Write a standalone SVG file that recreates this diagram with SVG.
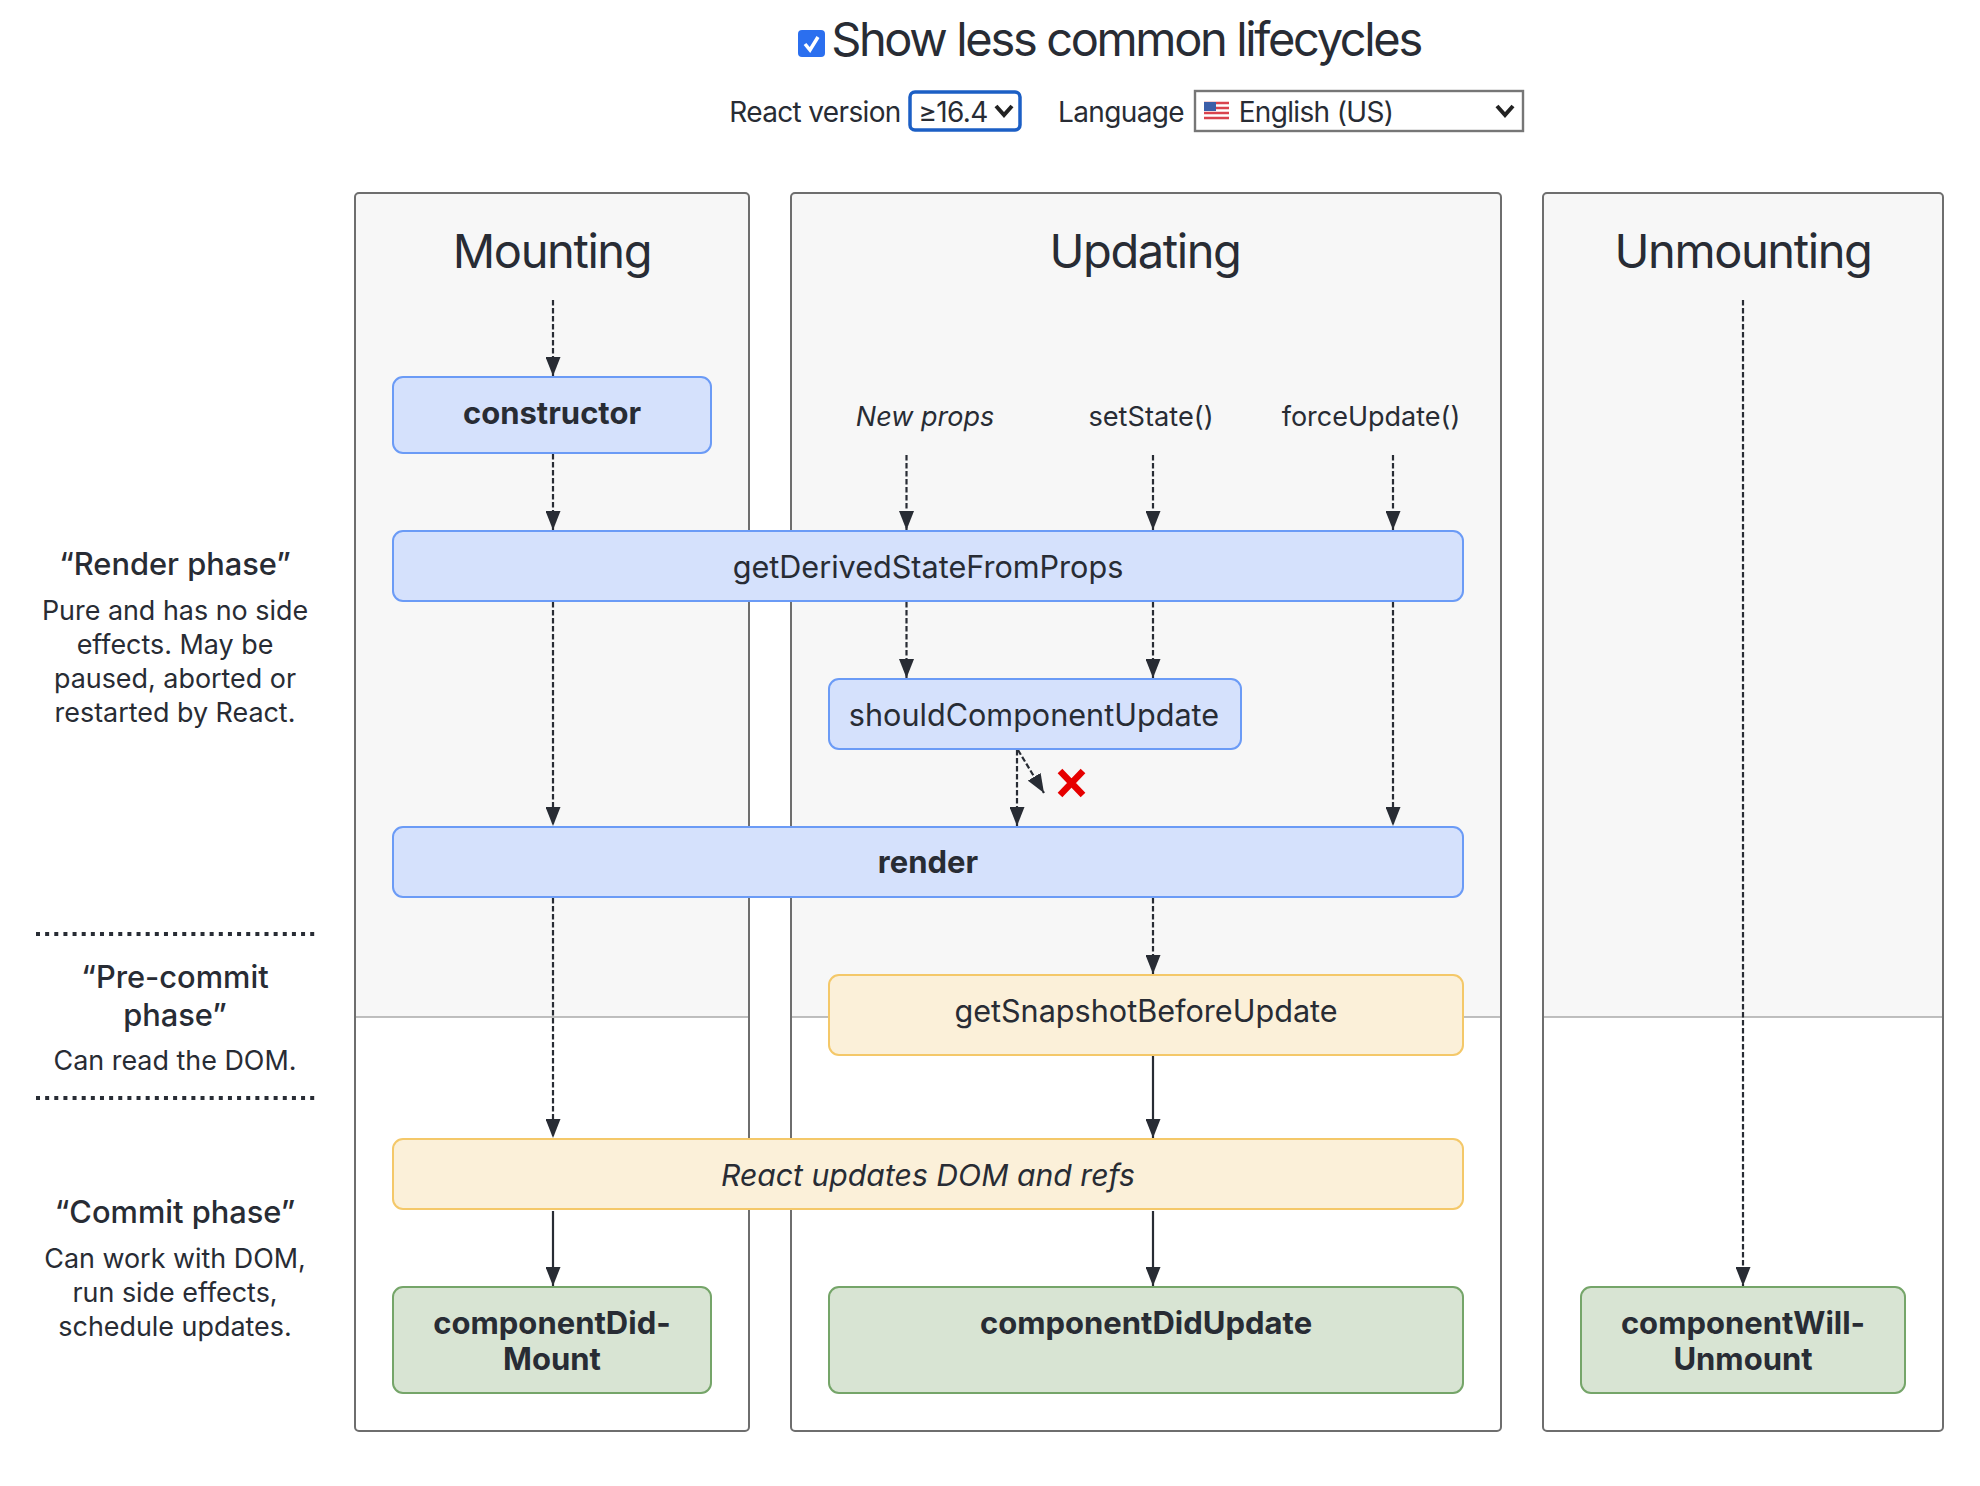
<svg xmlns="http://www.w3.org/2000/svg" width="1980" height="1486" viewBox="0 0 1980 1486">
<style>
text{font-family:Inter,"Noto Sans","Liberation Sans",sans-serif;fill:#282c34;text-anchor:middle}
.panel{fill:none;stroke:#6e6e6e;stroke-width:2}
.top{fill:#f7f7f7}
.div{stroke:#aaa;stroke-width:1.6}
.t{font-size:47px;letter-spacing:-1.4px}
.n{font-size:30.6px}
.b{font-size:31px;font-weight:700}
.l{font-size:26.9px}
.h{font-size:30.8px;font-weight:500}
.ctl{font-size:28px;letter-spacing:-0.65px}
.blue{fill:#d5e1fc;stroke:#6b9bf6;stroke-width:2}
.yel{fill:#fbf0d9;stroke:#f4c869;stroke-width:2}
.grn{fill:#d8e4d3;stroke:#75a569;stroke-width:2}
.c{fill:none;stroke:#282c34;stroke-width:2.2}
.d{stroke-dasharray:5.500 2.500}
.dots{stroke:#282c34;stroke-width:4;stroke-dasharray:4 5.140}
.chev{fill:none;stroke:#222;stroke-width:4}
</style>
<defs>
<marker id="ah" markerUnits="userSpaceOnUse" viewBox="0 0 19 15" refX="19" refY="7.500" markerWidth="19" markerHeight="15" orient="auto"><path d="M0 0L19 7.500L0 15Z" fill="#282c34"/></marker>
</defs>
<rect width="1980" height="1486" fill="#fff"/>
<g id="controls">
<rect x="798" y="30" width="27" height="27" rx="4" fill="#2b6fef"/>
<path d="M805 44L810 50L818 37" fill="none" stroke="#fff" stroke-width="3.5"/>
<text x="1126" y="56" style="font-size:47px;letter-spacing:-2.35px">Show less common lifecycles</text>
<text x="815" y="122" class="ctl">React version</text>
<rect x="910" y="92" width="110" height="38" rx="5" fill="#fff" stroke="#1c5fc5" stroke-width="3.5"/>
<text x="953" y="122" class="ctl">≥16.4</text>
<path d="M996 106L1004 115L1012 106" class="chev"/>
<text x="1121" y="122" class="ctl">Language</text>
<rect x="1195" y="91" width="328" height="40" fill="#fff" stroke="#767676" stroke-width="2.4"/>
<g id="flag">
<rect x="1204" y="102" width="25" height="17" fill="#fff"/>
<path d="M1204 103H1229M1204 108H1229M1204 113H1229M1204 118H1229" stroke="#d9434e" stroke-width="2.4"/>
<rect x="1204" y="102" width="12" height="9" fill="#3c5fa8"/>
</g>
<text x="1316" y="122" class="ctl">English (US)</text>
<path d="M1497 106L1505 115L1513 106" class="chev"/>
</g>
<g id="panels">
<g id="panel-mounting">
<path class="top" d="M355 1017V197a4 4 0 0 1 4-4H745a4 4 0 0 1 4 4V1017Z"/>
<path class="div" d="M355 1017H749"/>
<rect class="panel" x="355" y="193" width="394" height="1238" rx="4"/>
<text class="t" x="552" y="268">Mounting</text>
</g>
<g id="panel-updating">
<path class="top" d="M791 1017V197a4 4 0 0 1 4-4H1497a4 4 0 0 1 4 4V1017Z"/>
<path class="div" d="M791 1017H1501"/>
<rect class="panel" x="791" y="193" width="710" height="1238" rx="4"/>
<text class="t" x="1145" y="268">Updating</text>
</g>
<g id="panel-unmounting">
<path class="top" d="M1543 1017V197a4 4 0 0 1 4-4H1939a4 4 0 0 1 4 4V1017Z"/>
<path class="div" d="M1543 1017H1943"/>
<rect class="panel" x="1543" y="193" width="400" height="1238" rx="4"/>
<text class="t" x="1743" y="268">Unmounting</text>
</g>
</g>
<g id="phases">
<text class="h" x="175" y="575">“Render phase”</text>
<text class="l" x="175" y="620">Pure and has no side</text>
<text class="l" x="175" y="654">effects. May be</text>
<text class="l" x="175" y="688">paused, aborted or</text>
<text class="l" x="175" y="722">restarted by React.</text>
<path class="dots" d="M36 934H315"/>
<text class="h" x="175" y="988">“Pre-commit</text>
<text class="h" x="175" y="1026">phase”</text>
<text class="l" x="175" y="1070">Can read the DOM.</text>
<path class="dots" d="M36 1098H315"/>
<text class="h" x="175" y="1223">“Commit phase”</text>
<text class="l" x="175" y="1268">Can work with DOM,</text>
<text class="l" x="175" y="1302">run side effects,</text>
<text class="l" x="175" y="1336">schedule updates.</text>
</g>
<g id="triggers">
<text x="925" y="426" style="font-style:italic;font-size:27px">New props</text>
<text x="1151" y="426" style="font-size:27.2px">setState()</text>
<text x="1371" y="426" style="font-size:27px">forceUpdate()</text>
</g>
<g id="connectors">
<path class="c d" marker-end="url(#ah)" d="M553 300V376"/>
<path class="c d" marker-end="url(#ah)" d="M553 454V530"/>
<path class="c d" marker-end="url(#ah)" d="M553 602V826"/>
<path class="c d" marker-end="url(#ah)" d="M553 898V1138"/>
<path class="c" marker-end="url(#ah)" d="M553 1211V1286"/>
<path class="c d" marker-end="url(#ah)" d="M906.500 455V530"/>
<path class="c d" marker-end="url(#ah)" d="M1153 455V530"/>
<path class="c d" marker-end="url(#ah)" d="M1393 455V530"/>
<path class="c d" marker-end="url(#ah)" d="M906.500 602V678"/>
<path class="c d" marker-end="url(#ah)" d="M1153 602V678"/>
<path class="c d" marker-end="url(#ah)" d="M1393 602V826"/>
<path class="c d" marker-end="url(#ah)" d="M1017 750V826"/>
<path class="c d" marker-end="url(#ah)" d="M1018 750L1044 793"/>
<path class="c d" marker-end="url(#ah)" d="M1153 898V974"/>
<path class="c" marker-end="url(#ah)" d="M1153 1056V1138"/>
<path class="c" marker-end="url(#ah)" d="M1153 1211V1286"/>
<path class="c d" marker-end="url(#ah)" d="M1743 300V1286"/>
</g>
<path id="cross" d="M1060 771L1083 795M1083 771L1060 795" fill="none" stroke="#e60000" stroke-width="6.500"/>
<g id="constructor"><rect class="blue" x="393" y="377" width="318" height="76" rx="10"/><text class="b" x="552" y="424">constructor</text></g>
<g id="getDerivedStateFromProps"><rect class="blue" x="393" y="531" width="1070" height="70" rx="10"/><text class="n" x="928" y="578">getDerivedStateFromProps</text></g>
<g id="shouldComponentUpdate"><rect class="blue" x="829" y="679" width="412" height="70" rx="10"/><text class="n" x="1034" y="726">shouldComponentUpdate</text></g>
<g id="render"><rect class="blue" x="393" y="827" width="1070" height="70" rx="10"/><text class="b" x="928" y="873">render</text></g>
<g id="getSnapshotBeforeUpdate"><rect class="yel" x="829" y="975" width="634" height="80" rx="10"/><text class="n" x="1146" y="1022">getSnapshotBeforeUpdate</text></g>
<g id="reactUpdates"><rect class="yel" x="393" y="1139" width="1070" height="70" rx="10"/><text class="n" x="928" y="1186" style="font-style:italic;font-size:30.200px">React updates DOM and refs</text></g>
<g id="componentDidMount"><rect class="grn" x="393" y="1287" width="318" height="106" rx="10"/><text class="b" x="552" y="1334">componentDid-</text><text class="b" x="552" y="1370">Mount</text></g>
<g id="componentDidUpdate"><rect class="grn" x="829" y="1287" width="634" height="106" rx="10"/><text class="b" x="1146" y="1334">componentDidUpdate</text></g>
<g id="componentWillUnmount"><rect class="grn" x="1581" y="1287" width="324" height="106" rx="10"/><text class="b" x="1743" y="1334">componentWill-</text><text class="b" x="1743" y="1370">Unmount</text></g>
</svg>
